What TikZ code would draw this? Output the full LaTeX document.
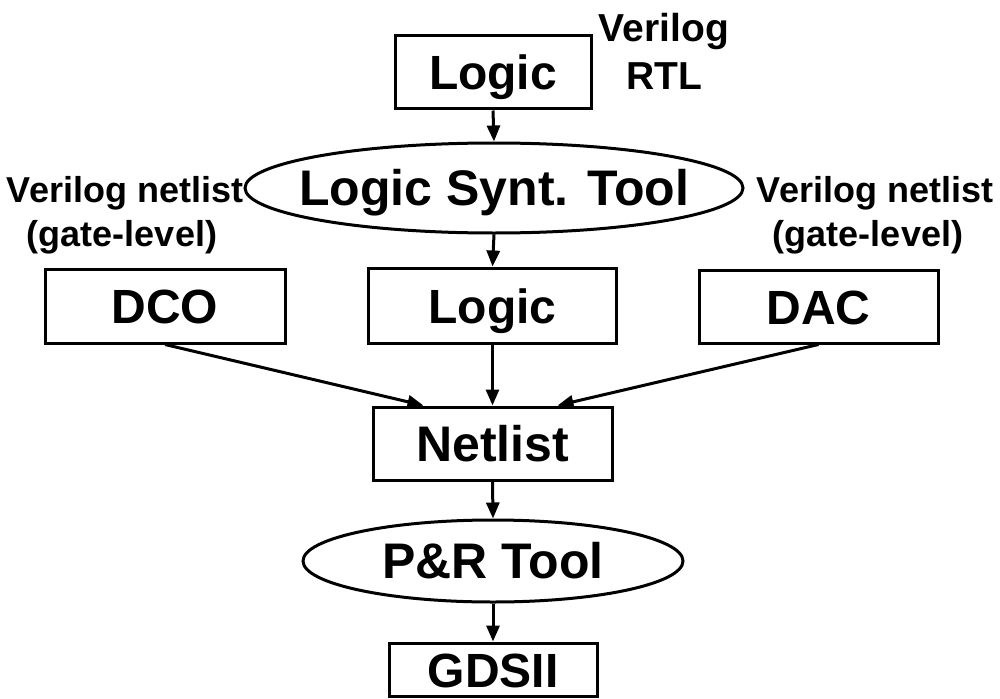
\documentclass[tikz,border=0pt]{standalone}
\usepackage{fontspec}
\setmainfont{Liberation Sans}
\usetikzlibrary{shapes.geometric,arrows.meta,calc}
\begin{document}
\begin{tikzpicture}[x=1pt,y=-1pt,
  box/.style={draw,line width=3pt,rectangle,inner sep=0pt,text height=35pt,text depth=0pt,font=\bfseries\fontsize{48}{56}\selectfont},
  oval/.style={draw,line width=3pt,ellipse,inner sep=0pt,text height=35pt,text depth=0pt,font=\bfseries\fontsize{50}{58}\selectfont},
  lbl/.style={inner sep=0pt,anchor=base,font=\bfseries\fontsize{36}{42}\selectfont},
  toplbl/.style={inner sep=0pt,anchor=base,font=\bfseries\fontsize{39}{44}\selectfont},
  arr/.style={line width=3pt,-{Triangle[length=16pt,width=13pt]}}]
\useasboundingbox (0,0) rectangle (1000,698);
\fill[white] (0,0) rectangle (1000,698);

\node[box,minimum width=196pt,minimum height=73pt] (logicA) at (493,72.5) {Logic};
\node[toplbl] (verA) at (664,42) {Verilog};
\node[toplbl] (rtl) at (664,90) {RTL};

\node[oval,minimum width=498pt,minimum height=90pt] (synt) at (494,188) {\makebox[0pt][c]{Logic Synt. Tool}};

\node[lbl] (lnet) at (125,202) {Verilog netlist};
\node[lbl] (lgate) at (122,246) {(gate-level)};
\node[lbl] (rnet) at (875,202) {Verilog netlist};
\node[lbl] (rgate) at (868,246) {(gate-level)};

\node[box,minimum width=240pt,minimum height=74pt] (dco) at (165,306) {DCO};
\node[box,minimum width=248pt,minimum height=75pt] (logicB) at (492.5,305.5) {Logic};
\node[box,minimum width=239pt,minimum height=73pt] (dac) at (818.5,306.5) {DAC};

\node[box,minimum width=239pt,minimum height=73pt,font=\bfseries\fontsize{50}{58}\selectfont] (netlist) at (492.5,443.5) {Netlist};

\node[oval,minimum width=380pt,minimum height=82pt] (pr) at (493,561) {\makebox[0pt][c]{P\&R Tool}};

\node[box,minimum width=208pt,minimum height=53pt] (gds) at (493,669.5) {GDSII};

\draw[arr] (logicA.south) -- (synt.north);
\draw[arr] (synt.south) -- (logicB.north);
\draw[arr] (dco.south) -- ([xshift=-69pt]netlist.north);
\draw[arr] (logicB.south) -- (netlist.north);
\draw[arr] (dac.south) -- ([xshift=65pt]netlist.north);
\draw[arr] (netlist.south) -- (pr.north);
\draw[arr] (pr.south) -- (gds.north);
\end{tikzpicture}
\end{document}
